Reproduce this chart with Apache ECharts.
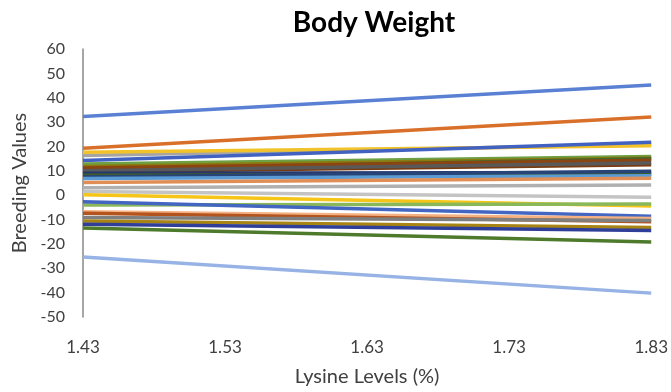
<!DOCTYPE html>
<html>
<head>
<meta charset="utf-8">
<script src="https://cdn.jsdelivr.net/npm/echarts@6/dist/echarts.min.js"></script>
<style>
  html, body { margin: 0; padding: 0; background: #fff; }
  #chart { width: 671px; height: 392px; }
</style>
</head>
<body>
<div id="chart"></div>
<script>
// x categories (lysine levels)
var lysine = ['1.43', '1.53', '1.63', '1.73', '1.83'];
// breeding value at 1.43 and at 1.83 for each line
var startValues = [32.3, 19.3, 16.3, 17.6, 14.2, 12.8, 11.8, 10.5, 11.2, 9.5, 10.0, 9.0, 8.2, 7.5, 6.8, 5.2, 3.0, 1.5, 0.2, -4.0, -2.7, -6.8, -7.4, -9.2, -10.6, -11.9, -13.5, -25.4];
var endValues   = [45.2, 32.1, 20.8, 20.3, 21.7, 15.9, 15.3, 15.0, 14.3, 12.5, 13.2, 9.3, 8.6, 9.8, 8.0, 6.9, 4.2, -0.8, -4.4, -3.6, -8.6, -9.6, -10.9, -10.4, -13.3, -14.5, -19.2, -40.2];
var lineColors  = ['#5a80d4', '#d9702a', '#a5a5a5', '#f2c22a', '#4262c2', '#6ea046', '#8a7a10', '#43682b', '#8b4513', '#7a3a10', '#595959', '#26386e', '#3f5f2a', '#264478', '#5b9bd5', '#e08e55', '#b0b0b0', '#c4c4c4', '#f5c518', '#88b85a', '#4366c2', '#f4b183', '#b3541e', '#7f7f7f', '#a88414', '#2f3f99', '#4e7a2c', '#97b2e4'];

var series = startValues.map(function (s, i) {
  return {
    type: 'line',
    data: [s, null, null, null, endValues[i]],
    connectNulls: true,
    symbol: 'none',
    lineStyle: { width: 3.5, color: lineColors[i] },
    itemStyle: { color: lineColors[i] },
    z: 2
  };
});

var myChart = echarts.init(document.getElementById('chart'));
myChart.setOption({
  animation: false,
  title: {
    text: 'Body Weight',
    left: 369,
    top: 4,
    textAlign: 'center',
    textStyle: { fontFamily: 'Lato', fontSize: 28, fontWeight: 'bold', color: '#000' }
  },
  grid: { left: 83, right: 19, top: 49, bottom: 72 },
  xAxis: {
    type: 'category',
    data: lysine,
    boundaryGap: false,
    name: 'Lysine Levels (%)',
    nameLocation: 'middle',
    nameGap: 50,
    nameTextStyle: { fontFamily: 'Lato', fontSize: 20, color: '#404040' },
    axisLine: { show: false },
    axisTick: { show: false },
    axisLabel: { margin: 22, fontFamily: 'Lato', fontSize: 17, color: '#404040' },
    splitLine: { show: false }
  },
  yAxis: {
    type: 'value',
    min: -50,
    max: 60,
    interval: 10,
    name: 'Breeding Values',
    nameLocation: 'middle',
    nameGap: 52,
    nameTextStyle: { fontFamily: 'Lato', fontSize: 20, color: '#404040' },
    axisLine: { show: true, lineStyle: { color: '#888', width: 1.5 } },
    axisTick: { show: false },
    axisLabel: { margin: 18, fontFamily: 'Lato', fontSize: 16, color: '#404040' },
    splitLine: { show: false }
  },
  series: series
});
</script>
</body>
</html>
